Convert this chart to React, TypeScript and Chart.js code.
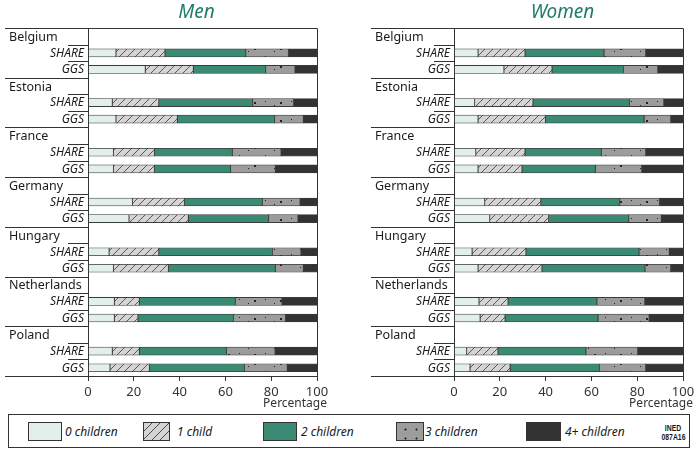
import React, { useEffect, useRef } from 'react';
import { Chart, registerables } from 'chart.js';

Chart.register(...registerables);

const countries = ['Belgium', 'Estonia', 'France', 'Germany', 'Hungary', 'Netherlands', 'Poland'];
const sources = ['SHARE', 'GGS'];
const seriesLabels = ['0 children', '1 child', '2 children', '3 children', '4+ children'];
const xTickValues = [0, 20, 40, 60, 80, 100];

// percentages per country: [0, 1, 2, 3, 4+ children]
const menShare = [
  [12.2, 21.4, 35.3, 18.6, 12.5],
  [10.6, 20.3, 41.0, 17.8, 10.3],
  [11.1, 17.9, 34.0, 21.3, 15.7],
  [19.4, 22.7, 34.0, 16.5, 7.4],
  [9.2, 21.7, 49.7, 12.4, 7.0],
  [11.5, 10.9, 41.9, 20.4, 15.3],
  [10.6, 11.8, 38.0, 21.3, 18.3],
];
const menGgs = [
  [25.0, 21.0, 31.6, 12.8, 9.6],
  [12.2, 26.8, 42.5, 12.5, 6.0],
  [11.1, 17.9, 33.3, 19.5, 18.2],
  [17.9, 25.9, 35.1, 12.8, 8.3],
  [11.1, 24.0, 46.7, 12.2, 6.0],
  [11.5, 10.3, 41.7, 22.7, 13.8],
  [9.6, 17.2, 41.5, 18.7, 13.0],
];
const womenShare = [
  [10.5, 20.5, 34.5, 18.2, 16.3],
  [9.0, 25.5, 42.1, 15.0, 8.4],
  [9.5, 21.5, 33.3, 19.4, 16.3],
  [13.4, 24.5, 34.5, 17.3, 10.3],
  [7.9, 23.5, 49.4, 13.2, 6.0],
  [10.9, 12.7, 38.8, 20.9, 16.7],
  [5.5, 13.7, 38.4, 22.6, 19.8],
];
const womenGgs = [
  [21.8, 21.0, 31.2, 14.9, 11.1],
  [10.5, 29.4, 43.1, 11.6, 5.4],
  [10.5, 19.2, 32.0, 20.2, 18.1],
  [15.6, 25.7, 35.0, 14.2, 9.5],
  [10.5, 27.9, 45.0, 11.2, 5.4],
  [11.4, 10.9, 40.6, 22.3, 14.8],
  [7.0, 17.5, 39.0, 20.2, 16.3],
];

const FONT = '"Noto Sans", "Open Sans", sans-serif';
const TEAL = '#3b8a73';
const MINT = '#e2efea';
const HATCH_BG = '#d4d4d4';
const DOT_BG = '#9c9c9c';
const DARK = '#333333';

function makeHatch(): CanvasPattern | string {
  const c = document.createElement('canvas');
  c.width = 8; c.height = 8;
  const g = c.getContext('2d');
  if (!g) return HATCH_BG;
  g.fillStyle = HATCH_BG; g.fillRect(0, 0, 8, 8);
  g.strokeStyle = '#4a4a4a'; g.lineWidth = 0.9;
  g.beginPath();
  g.moveTo(0, 8); g.lineTo(8, 0);
  g.moveTo(-1, 1); g.lineTo(1, -1);
  g.moveTo(7, 9); g.lineTo(9, 7);
  g.stroke();
  return g.createPattern(c, 'repeat') || HATCH_BG;
}

function makeDots(): CanvasPattern | string {
  const c = document.createElement('canvas');
  c.width = 26; c.height = 9;
  const g = c.getContext('2d');
  if (!g) return DOT_BG;
  g.fillStyle = DOT_BG; g.fillRect(0, 0, 26, 9);
  g.fillStyle = '#222';
  g.fillRect(5, 2, 1, 1);
  g.fillRect(14, 6, 1, 1);
  g.fillRect(20, 3, 2, 2);
  return g.createPattern(c, 'repeat') || DOT_BG;
}

const labels = countries.flatMap((c) => [c, ...sources]);

function Panel({ title, share, ggs, left }: { title: string; share: number[][]; ggs: number[][]; left: number }) {
  const ref = useRef<HTMLCanvasElement | null>(null);
  useEffect(() => {
    if (!ref.current) return;
    const fills = [MINT, makeHatch(), TEAL, makeDots(), DARK];
    const datasets = seriesLabels.map((name, k) => ({
      label: name,
      data: labels.map((_, i) => {
        const c = Math.floor(i / 3);
        const r = i % 3;
        if (r === 0) return null;
        return (r === 1 ? share : ggs)[c][k];
      }),
      backgroundColor: fills[k] as any,
      borderColor: '#3a3a3a',
      borderWidth: 0.8,
      borderSkipped: false,
      barThickness: 8,
    }));

    const decor = {
      id: 'decor',
      afterDraw(chart: any) {
        const ctx = chart.ctx as CanvasRenderingContext2D;
        const { left: L, right: R, top: T, bottom: B } = chart.chartArea;
        const y = chart.scales.y;
        ctx.save();
        // title
        ctx.fillStyle = '#1f7d66';
        ctx.font = `italic 19px ${FONT}`;
        ctx.textAlign = 'center';
        ctx.textBaseline = 'middle';
        ctx.fillText(title, (L + R) / 2 - 6, 13);
        // axis title
        ctx.fillStyle = DARK;
        ctx.font = `12px ${FONT}`;
        ctx.textAlign = 'right';
        ctx.fillText('Percentage', R + 10, 404);
        // row labels
        labels.forEach((lab, i) => {
          const py = y.getPixelForValue(i);
          if (i % 3 === 0) {
            ctx.font = `12.5px ${FONT}`;
            ctx.textAlign = 'left';
            ctx.fillStyle = '#1a1a1a';
            ctx.fillText(lab, 9, py + 1);
          } else {
            ctx.font = `italic 12px ${FONT}`;
            ctx.textAlign = 'right';
            ctx.fillStyle = '#1a1a1a';
            ctx.fillText(lab, L - 4, py + 0.5);
          }
        });
        // divider lines
        ctx.strokeStyle = DARK;
        ctx.lineWidth = 1;
        ctx.beginPath();
        for (let i = 0; i < labels.length - 1; i++) {
          const yy = Math.round((y.getPixelForValue(i) + y.getPixelForValue(i + 1)) / 2) + 0.5;
          const x0 = i % 3 === 2 ? 5 : 68;
          ctx.moveTo(x0, yy); ctx.lineTo(L, yy);
        }
        const tt = Math.round(T) + 0.5;
        const bb = Math.round(B) + 0.5;
        ctx.moveTo(5, tt); ctx.lineTo(R + 0.5, tt);
        ctx.moveTo(5, bb); ctx.lineTo(R + 0.5, bb);
        ctx.moveTo(Math.round(R) + 0.5, tt); ctx.lineTo(Math.round(R) + 0.5, bb);
        ctx.stroke();
        ctx.restore();
      },
    };

    const chart = new Chart(ref.current, {
      type: 'bar',
      data: { labels, datasets: datasets as any },
      options: {
        indexAxis: 'y',
        animation: false,
        responsive: false,
        maintainAspectRatio: false,
        layout: { padding: { left: 0, right: 23, top: 28, bottom: 0 } },
        plugins: { legend: { display: false }, tooltip: { enabled: false }, title: { display: false } },
        scales: {
          x: {
            stacked: true,
            min: 0,
            max: 100,
            afterBuildTicks: (s: any) => { s.ticks = xTickValues.map((v) => ({ value: v })); },
            ticks: { color: DARK, font: { family: FONT, size: 13 }, padding: 3, maxRotation: 0 },
            grid: { display: true, drawOnChartArea: false, drawTicks: true, tickLength: 5, color: DARK },
            border: { display: true, color: DARK },
            afterFit: (s: any) => { s.height = 44; },
          },
          y: {
            stacked: true,
            ticks: { display: false },
            grid: { display: false },
            border: { display: true, color: DARK },
            afterFit: (s: any) => { s.width = 88; },
          },
        },
      },
      plugins: [decor],
    });
    return () => chart.destroy();
  }, [title, share, ggs]);

  return (
    <canvas
      ref={ref}
      width={340}
      height={420}
      style={{ position: 'absolute', left, top: 0, width: 340, height: 420 }}
    />
  );
}

const swatchBase: React.CSSProperties = {
  position: 'absolute',
  top: 7,
  height: 19,
  boxSizing: 'border-box',
  border: '1px solid #333',
};
const textBase: React.CSSProperties = {
  position: 'absolute',
  top: 7,
  lineHeight: '19px',
  fontFamily: FONT,
  fontStyle: 'italic',
  fontSize: 12,
  color: '#1a1a1a',
  whiteSpace: 'nowrap',
};

function Legend() {
  const items = [
    { sx: 19, sw: 34, tx: 56, bg: MINT },
    { sx: 134, sw: 27, tx: 168, bg: `repeating-linear-gradient(135deg, ${HATCH_BG} 0 5px, #4a4a4a 5px 6px)` },
    { sx: 254, sw: 34, tx: 292, bg: TEAL },
    { sx: 387, sw: 28, tx: 416, bg: `radial-gradient(circle, #222 0.8px, transparent 1.3px) 3px 2px / 11px 9px, ${DOT_BG}` },
    { sx: 517, sw: 35, tx: 556, bg: DARK },
  ];
  return (
    <div
      style={{
        position: 'absolute', left: 8, top: 414, width: 682, height: 34,
        boxSizing: 'border-box', border: '1px solid #333', background: '#fff',
      }}
    >
      {items.map((it, k) => (
        <React.Fragment key={k}>
          <div style={{ ...swatchBase, left: it.sx, width: it.sw, background: it.bg }} />
          <div style={{ ...textBase, left: it.tx }}>{seriesLabels[k]}</div>
        </React.Fragment>
      ))}
      <div
        style={{
          position: 'absolute', left: 648, top: 8, width: 32,
          fontFamily: '"Liberation Sans Narrow", "Liberation Sans", sans-serif',
          fontSize: 9.5, lineHeight: '9px', fontWeight: 'bold', color: '#1a1a1a', textAlign: 'center',
          transform: 'scaleX(0.72)', transformOrigin: 'center top', whiteSpace: 'nowrap',
        }}
      >
        INED<br />087A16
      </div>
    </div>
  );
}

export default function App() {
  return (
    <div style={{ position: 'absolute', left: 0, top: 0, width: 699, height: 452, background: '#fff', overflow: 'hidden' }}>
      <Panel title="Men" share={menShare} ggs={menGgs} left={0} />
      <Panel title="Women" share={womenShare} ggs={womenGgs} left={366} />
      <Legend />
    </div>
  );
}
